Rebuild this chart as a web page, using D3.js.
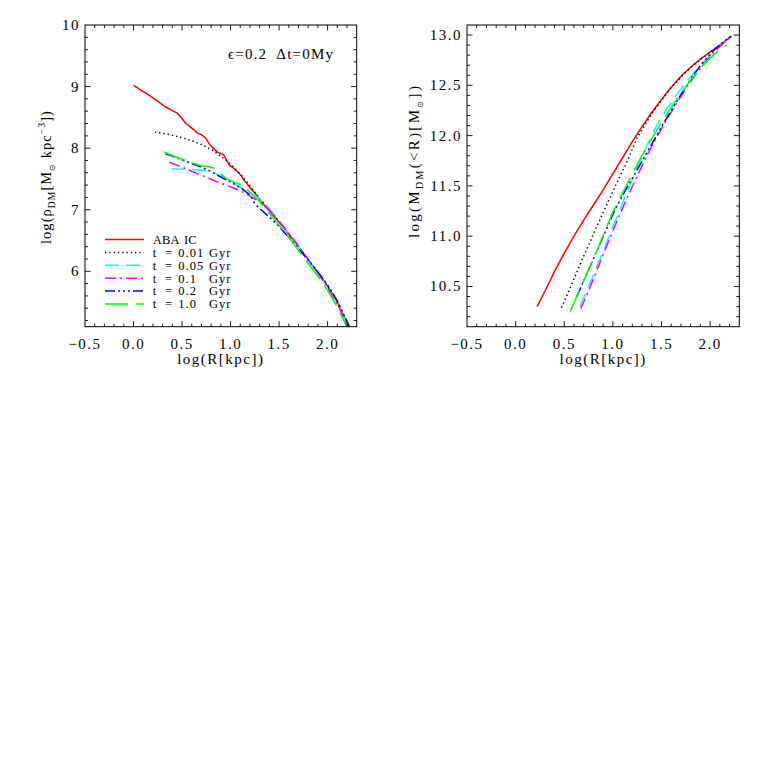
<!DOCTYPE html>
<html><head><meta charset="utf-8">
<script src="https://cdn.jsdelivr.net/npm/d3@7"></script>
<style>
body{margin:0;background:#fff}
svg text{font-family:"Liberation Serif","Times New Roman",serif;fill:#000}
</style>
</head><body><svg id="c" width="763" height="763"></svg>
<script>
// ---------- DATA ----------
const xTicks = [-0.5, 0.0, 0.5, 1.0, 1.5, 2.0];
const xTickLabels = ["\u22120.5", "0.0", "0.5", "1.0", "1.5", "2.0"];
const rhoTicks = [6, 7, 8, 9, 10];
const rhoTickLabels = ["6", "7", "8", "9", "10"];
const massTicks = [10.5, 11.0, 11.5, 12.0, 12.5, 13.0];
const massTickLabels = ["10.5", "11.0", "11.5", "12.0", "12.5", "13.0"];

const seriesLabels = ["ABA IC", "t = 0.01 Gyr", "t = 0.05 Gyr", "t = 0.1 Gyr", "t = 0.2 Gyr", "t = 1.0 Gyr"];

// density profiles: log R, log rho
const rhoIC_x  = [0.00,0.08,0.16,0.24,0.32,0.40,0.45,0.50,0.54,0.58,0.62,0.66,0.70,0.74,0.78,0.82,0.86,0.90,0.93,0.96,0.99,1.03,1.07,1.11,1.15,1.20,1.25,1.30,1.40,1.50,1.60,1.70,1.80,1.90,2.00,2.10,2.20,2.26];
const rhoIC_y  = [9.02,8.94,8.86,8.77,8.68,8.61,8.57,8.48,8.40,8.35,8.30,8.24,8.22,8.17,8.07,8.00,7.94,7.91,7.89,7.80,7.72,7.68,7.62,7.55,7.46,7.36,7.27,7.16,6.98,6.80,6.60,6.40,6.19,5.98,5.76,5.50,5.16,4.95];
const rho001_x = [0.22,0.30,0.40,0.50,0.60,0.70,0.80,0.90,1.00,1.10,1.20,1.30,1.40,1.50,1.60,1.70,1.80,1.90,2.00,2.10,2.20,2.26];
const rho001_y = [8.26,8.24,8.21,8.17,8.12,8.06,7.98,7.87,7.74,7.58,7.39,7.18,7.00,6.81,6.60,6.40,6.19,5.98,5.76,5.49,5.15,4.95];
const rho005_x = [0.39,0.45,0.55,0.65,0.72,0.78,0.84,0.90,0.96,1.02,1.08,1.14,1.20,1.30,1.40,1.50,1.60,1.70,1.80,1.90,2.00,2.10,2.20,2.25];
const rho005_y = [7.66,7.66,7.66,7.65,7.64,7.62,7.59,7.55,7.51,7.45,7.38,7.33,7.28,7.18,7.02,6.83,6.61,6.40,6.19,5.97,5.74,5.47,5.14,4.97];
const rho01_x  = [0.37,0.45,0.55,0.65,0.75,0.85,0.95,1.05,1.15,1.20,1.30,1.40,1.50,1.60,1.70,1.80,1.90,2.00,2.10,2.20,2.25];
const rho01_y  = [7.77,7.72,7.66,7.59,7.53,7.46,7.40,7.34,7.27,7.22,7.13,6.99,6.81,6.62,6.41,6.19,5.97,5.74,5.47,5.14,4.97];
const rho02_x  = [0.33,0.40,0.50,0.60,0.70,0.80,0.90,1.00,1.10,1.20,1.25,1.30,1.40,1.50,1.60,1.70,1.80,1.90,2.00,2.10,2.20,2.26];
const rho02_y  = [7.91,7.87,7.81,7.75,7.69,7.62,7.53,7.45,7.36,7.24,7.10,7.02,6.88,6.73,6.55,6.37,6.18,5.99,5.78,5.52,5.19,4.97];
const rho10_x  = [0.31,0.40,0.50,0.60,0.70,0.76,0.80,0.84,0.88,0.92,0.96,1.00,1.05,1.10,1.15,1.20,1.30,1.40,1.50,1.60,1.70,1.80,1.90,2.00,2.10,2.20,2.24];
const rho10_y  = [7.94,7.88,7.82,7.76,7.71,7.70,7.69,7.67,7.62,7.55,7.50,7.47,7.44,7.41,7.36,7.28,7.13,6.94,6.75,6.55,6.34,6.13,5.92,5.69,5.42,5.09,4.97];

// enclosed mass profiles: log R, log M(<R)
const mIC_x  = [0.22,0.30,0.40,0.50,0.60,0.70,0.80,0.90,1.00,1.10,1.20,1.30,1.40,1.50,1.60,1.70,1.80,1.90,2.00,2.10,2.22];
const mIC_y  = [10.30,10.45,10.65,10.83,11.00,11.16,11.31,11.46,11.62,11.78,11.94,12.09,12.23,12.36,12.48,12.59,12.68,12.76,12.83,12.90,12.99];
const m001_x = [0.47,0.55,0.65,0.75,0.85,0.95,1.05,1.15,1.25,1.40,1.60,1.80,2.00,2.22];
const m001_y = [10.29,10.46,10.69,10.91,11.13,11.34,11.55,11.75,11.98,12.22,12.48,12.68,12.83,12.99];
const m005_x = [0.66,0.75,0.85,0.95,1.05,1.15,1.25,1.35,1.45,1.55,1.65,1.75,1.85,1.95,2.05,2.15,2.22];
const m005_y = [10.30,10.50,10.73,10.97,11.21,11.45,11.68,11.90,12.10,12.26,12.40,12.53,12.64,12.75,12.85,12.93,12.99];
const m01_x  = [0.67,0.76,0.86,0.96,1.06,1.16,1.26,1.36,1.46,1.56,1.66,1.76,1.86,1.96,2.06,2.15,2.22];
const m01_y  = [10.28,10.48,10.72,10.96,11.19,11.41,11.62,11.82,12.00,12.17,12.33,12.48,12.62,12.74,12.85,12.93,12.99];
const m02_x  = [0.63,0.72,0.82,0.92,1.02,1.12,1.22,1.32,1.42,1.52,1.62,1.72,1.82,1.92,2.02,2.12,2.22];
const m02_y  = [10.40,10.60,10.82,11.04,11.26,11.44,11.61,11.78,11.95,12.12,12.28,12.44,12.59,12.72,12.83,12.92,12.99];
const m10_x  = [0.56,0.66,0.77,0.88,1.00,1.10,1.20,1.30,1.40,1.50,1.60,1.70,1.80,1.90,2.00,2.08,2.17];
const m10_y  = [10.25,10.47,10.71,10.96,11.24,11.43,11.62,11.80,11.97,12.13,12.28,12.42,12.55,12.67,12.77,12.84,12.90];

// ---------- STYLES ----------
const colors = ["#ff0000", "#000000", "#00ffff", "#ff00ff", "#0000ff", "#00ff00"];
const dashes = [null, "1.3,3", "14,7", "11,4,2,4", "10,3,2,3,2,3,2,3", "23,8"];

const rhoSeries = [[rhoIC_x,rhoIC_y],[rho001_x,rho001_y],[rho005_x,rho005_y],[rho01_x,rho01_y],[rho02_x,rho02_y],[rho10_x,rho10_y]];
const massSeries = [[mIC_x,mIC_y],[m001_x,m001_y],[m005_x,m005_y],[m01_x,m01_y],[m02_x,m02_y],[m10_x,m10_y]];

const svg = d3.select("#c");
const plotTop = 25, plotBottom = 326.7;

function panel(id, left, right, yDomain, yTicks, yLabels, yMinorStep, series) {
  const x = d3.scaleLinear().domain([-0.5, 2.3]).range([left, right]);
  const y = d3.scaleLinear().domain(yDomain).range([plotBottom, plotTop]);
  const g = svg.append("g");
  const cid = "clip" + id;
  svg.append("clipPath").attr("id", cid).append("rect")
    .attr("x", left).attr("y", plotTop).attr("width", right - left).attr("height", plotBottom - plotTop);

  const line = d3.line().x(d => x(d[0])).y(d => y(d[1]));
  series.forEach((s, i) => {
    const pts = s[0].map((v, k) => [v, s[1][k]]);
    g.append("path").attr("d", line(pts)).attr("fill", "none")
      .attr("stroke", colors[i]).attr("stroke-width", 1.5)
      .attr("stroke-dasharray", dashes[i]).attr("clip-path", `url(#${cid})`);
  });

  g.append("rect").attr("x", left).attr("y", plotTop).attr("width", right - left).attr("height", plotBottom - plotTop)
    .attr("fill", "none").attr("stroke", "#000").attr("stroke-width", 1);

  const MAJ = 5.5, MIN = 3;
  const ax = g.append("g").attr("stroke", "#000").attr("stroke-width", 0.9);
  const xMinor = d3.range(-0.5, 2.3001, 0.1).filter(v => v > -0.49 && v < 2.29);
  xMinor.forEach(v => {
    const isMaj = xTicks.some(t => Math.abs(t - v) < 1e-6);
    const L = isMaj ? MAJ : MIN;
    ax.append("line").attr("x1", x(v)).attr("x2", x(v)).attr("y1", plotBottom).attr("y2", plotBottom - L);
    ax.append("line").attr("x1", x(v)).attr("x2", x(v)).attr("y1", plotTop).attr("y2", plotTop + L);
  });
  const yMinor = d3.range(Math.ceil(yDomain[0] / yMinorStep - 1e-6) * yMinorStep, yDomain[1] + 1e-6, yMinorStep)
    .filter(v => v > yDomain[0] + 0.01 && v < yDomain[1] - 0.01);
  yMinor.forEach(v => {
    const isMaj = yTicks.some(t => Math.abs(t - v) < 1e-6);
    const L = isMaj ? MAJ : MIN;
    ax.append("line").attr("y1", y(v)).attr("y2", y(v)).attr("x1", left).attr("x2", left + L);
    ax.append("line").attr("y1", y(v)).attr("y2", y(v)).attr("x1", right).attr("x2", right - L);
  });
  xTicks.forEach((t, i) => {
    g.append("text").attr("x", x(t)).attr("y", 348.5).attr("text-anchor", "middle")
      .attr("font-size", 15).attr("letter-spacing", 1.5).text(xTickLabels[i]);
  });
  yTicks.forEach((t, i) => {
    g.append("text").attr("x", left - 5).attr("y", y(t) + 5).attr("text-anchor", "end")
      .attr("font-size", 15).attr("letter-spacing", 1.5).text(yLabels[i]);
  });
  g.append("text").attr("x", (left + right) / 2).attr("y", 364).attr("text-anchor", "middle")
    .attr("font-size", 15).attr("letter-spacing", 1.5).text("log(R[kpc])");
  return {x, y, g};
}

panel("a", 85, 356.7, [5.1, 10], rhoTicks, rhoTickLabels, 0.2, rhoSeries);
panel("b", 467, 739.3, [10.1, 13.1], massTicks, massTickLabels, 0.1, massSeries);

// y titles: start (bottom end) position as in the reference
function yTitle(cx, yStart, len, ls, parts) {
  const t = svg.append("text").attr("transform", `translate(${cx},${yStart}) rotate(-90)`)
    .attr("text-anchor", "start").attr("font-size", 15).attr("letter-spacing", ls);
  if (len) t.attr("textLength", len).attr("lengthAdjust", "spacingAndGlyphs");
  let shift = 0;
  parts.forEach(p => {
    const dy = p.s - shift;
    shift = p.s;
    const ts = t.append("tspan").attr("dy", dy).text(p.t);
    if (p.s !== 0) ts.attr("font-size", p.f || 10);
  });
}
yTitle(51, 244, 134, 1.1, [{t:"log(\u03c1", s:0},{t:"DM", s:4},{t:"[M", s:0},{t:"\u2299", s:4, f:8},{t:" kpc", s:0},{t:"\u22123", s:-6},{t:"])", s:0}]);
yTitle(419, 238, null, 2.3, [{t:"log(M", s:0},{t:"DM", s:4},{t:"(<R)[M", s:0},{t:"\u2299", s:4, f:8},{t:"])", s:0}]);

svg.append("text").attr("x", 228).attr("y", 58.5).attr("font-size", 15).attr("letter-spacing", 1.2)
  .style("white-space", "pre").text("\u03f5=0.2  \u0394t=0My");

const lg = svg.append("g");
seriesLabels.forEach((lab, i) => {
  const yy = 239.5 + i * 12.9;
  lg.append("line").attr("x1", 105).attr("x2", 144).attr("y1", yy).attr("y2", yy)
    .attr("stroke", colors[i]).attr("stroke-width", 1.5).attr("stroke-dasharray", dashes[i]);
  const parts = lab.split(" ");
  const cols = parts.length === 4 ? [152.7, 165, 178.3, 209] : [152.7, 184];
  parts.forEach((p, k) => lg.append("text").attr("x", cols[k]).attr("y", yy + 4.3)
    .attr("font-size", 12.5).attr("letter-spacing", parts.length === 4 ? 1 : 0.2).text(p));
});
</script></body></html>
